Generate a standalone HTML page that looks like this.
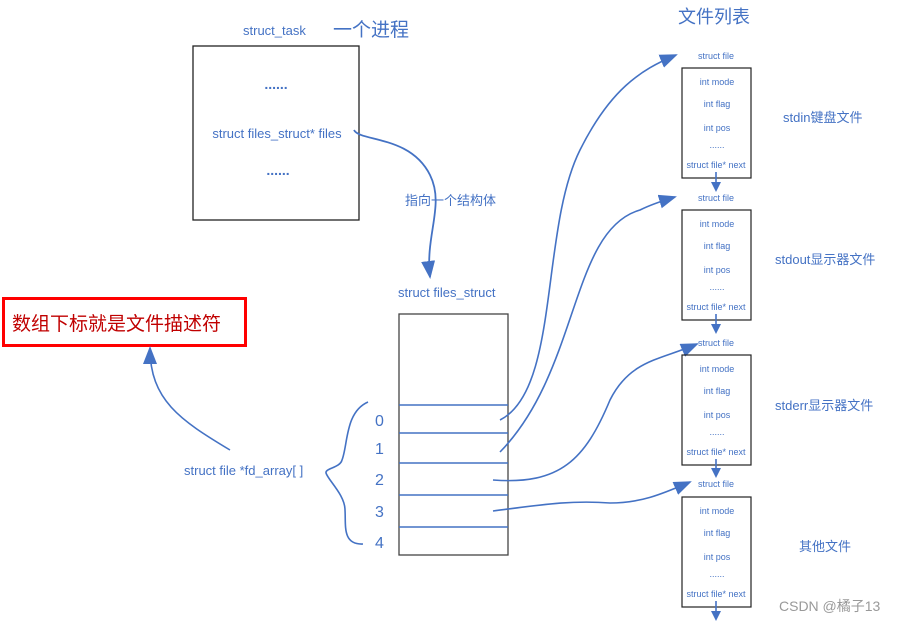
<!DOCTYPE html>
<html><head><meta charset="utf-8"><style>
html,body{margin:0;padding:0;background:#fff;width:898px;height:621px;overflow:hidden}
svg text{font-family:"Liberation Sans","Noto Sans CJK SC",sans-serif;fill:#4472C4}
</style></head><body>
<svg width="898" height="621" viewBox="0 0 898 621" xmlns="http://www.w3.org/2000/svg">
<defs>
<marker id="ar" markerWidth="10" markerHeight="10" refX="8" refY="5" orient="auto" markerUnits="userSpaceOnUse" viewBox="0 0 10 10">
<path d="M0,0 L10,5 L0,10 z" fill="#4472C4"/></marker>
<marker id="arb" markerWidth="18" markerHeight="14" refX="16" refY="7" orient="auto" markerUnits="userSpaceOnUse" viewBox="0 0 18 14">
<path d="M0,0 L18,7 L0,14 z" fill="#4472C4"/></marker>
</defs>
<!-- task box -->
<rect x="193" y="46" width="166" height="174" fill="none" stroke="#222" stroke-width="1.3"/>
<text x="243" y="35" font-size="13">struct_task</text>
<text x="333" y="36" font-size="19">一个进程</text>
<text x="276" y="89" font-size="14" text-anchor="middle" font-weight="bold">......</text>
<text x="278" y="175" font-size="14" text-anchor="middle" font-weight="bold">......</text>
<text x="277" y="138" font-size="13" text-anchor="middle">struct files_struct* files</text>
<path d="M354,130 C360,142 410,135 430,175 C445,205 425,235 430,277" fill="none" stroke="#4472C4" stroke-width="1.8" marker-end="url(#arb)"/>
<text x="405" y="205" font-size="13">指向一个结构体</text>
<text x="398" y="297" font-size="13">struct files_struct</text>
<!-- array -->
<rect x="399" y="314" width="109" height="241" fill="none" stroke="#444" stroke-width="1.3"/>
<g stroke="#4472C4" stroke-width="1.5">
<line x1="399" y1="405" x2="508" y2="405"/><line x1="399" y1="433" x2="508" y2="433"/>
<line x1="399" y1="463" x2="508" y2="463"/><line x1="399" y1="495" x2="508" y2="495"/>
<line x1="399" y1="527" x2="508" y2="527"/></g>
<g font-size="16"><text x="375" y="426">0</text><text x="375" y="454">1</text><text x="375" y="485">2</text><text x="375" y="517">3</text><text x="375" y="548">4</text></g>
<path d="M368,402 C345,412 348,445 342,460 C340,468 325,468 326,473 C328,480 345,495 345,510 C346,525 342,545 363,544" fill="none" stroke="#4472C4" stroke-width="1.6"/>
<text x="184" y="475" font-size="13">struct file *fd_array[ ]</text>
<!-- red box -->
<rect x="3.5" y="298.5" width="242" height="47" fill="none" stroke="#f00" stroke-width="3"/>
<text x="12" y="330" font-size="19" style="fill:#c00000">数组下标就是文件描述符</text>
<path d="M230,450 C180,420 150,400 150,348" fill="none" stroke="#4472C4" stroke-width="1.6" marker-end="url(#arb)"/>
<!-- curves to files -->
<g fill="none" stroke="#4472C4" stroke-width="1.6">
<path d="M500,420 C560,390 540,230 580,150 C610,90 640,70 676,55" marker-end="url(#arb)"/>
<path d="M500,452 C580,370 570,230 640,210 C650,205 665,200 675,197" marker-end="url(#arb)"/>
<path d="M493,480 C560,485 585,460 610,400 C630,360 660,360 697,344" marker-end="url(#arb)"/>
<path d="M493,511 C540,505 570,500 610,503 C640,503 660,495 690,482" marker-end="url(#arb)"/>
</g>
<text x="678" y="23" font-size="18">文件列表</text>
<!-- file boxes -->
<g font-size="9">
<text x="698" y="59">struct file</text>
<rect x="682" y="68" width="69" height="110" fill="none" stroke="#222" stroke-width="1.2"/>
<text x="717" y="85" text-anchor="middle">int mode</text><text x="717" y="107" text-anchor="middle">int flag</text><text x="717" y="131" text-anchor="middle">int pos</text><text x="717" y="148" text-anchor="middle">......</text><text x="716" y="168" text-anchor="middle">struct file*  next</text>
<text x="698" y="201">struct file</text>
<rect x="682" y="210" width="69" height="110" fill="none" stroke="#222" stroke-width="1.2"/>
<text x="717" y="227" text-anchor="middle">int mode</text><text x="717" y="249" text-anchor="middle">int flag</text><text x="717" y="273" text-anchor="middle">int pos</text><text x="717" y="290" text-anchor="middle">......</text><text x="716" y="310" text-anchor="middle">struct file*  next</text>
<text x="698" y="346">struct file</text>
<rect x="682" y="355" width="69" height="110" fill="none" stroke="#222" stroke-width="1.2"/>
<text x="717" y="372" text-anchor="middle">int mode</text><text x="717" y="394" text-anchor="middle">int flag</text><text x="717" y="418" text-anchor="middle">int pos</text><text x="717" y="435" text-anchor="middle">......</text><text x="716" y="455" text-anchor="middle">struct file*  next</text>
<text x="698" y="487">struct file</text>
<rect x="682" y="497" width="69" height="110" fill="none" stroke="#222" stroke-width="1.2"/>
<text x="717" y="514" text-anchor="middle">int mode</text><text x="717" y="536" text-anchor="middle">int flag</text><text x="717" y="560" text-anchor="middle">int pos</text><text x="717" y="577" text-anchor="middle">......</text><text x="716" y="597" text-anchor="middle">struct file*  next</text>
</g>
<g stroke="#4472C4" stroke-width="1.6">
<line x1="716" y1="172" x2="716" y2="190" marker-end="url(#ar)"/>
<line x1="716" y1="314" x2="716" y2="332" marker-end="url(#ar)"/>
<line x1="716" y1="459" x2="716" y2="476" marker-end="url(#ar)"/>
<line x1="716" y1="601" x2="716" y2="619" marker-end="url(#ar)"/>
</g>
<g font-size="13">
<text x="783" y="122">stdin键盘文件</text>
<text x="775" y="264">stdout显示器文件</text>
<text x="775" y="410">stderr显示器文件</text>
<text x="799" y="551">其他文件</text>
</g>
<text x="779" y="611" font-size="14" style="fill:#999">CSDN @橘子13</text>
</svg>
</body></html>
